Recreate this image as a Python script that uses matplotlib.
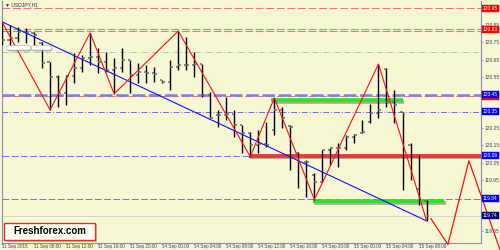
import matplotlib
matplotlib.use("Agg")
import matplotlib.pyplot as plt
import matplotlib.patheffects as pe
import matplotlib.transforms as mtransforms
from matplotlib.patches import FancyBboxPatch

# USDJPY H1 bars, 11 Sep 2015 04:00 .. 15 Sep 2015 09:00 (bar index)
opens = [120.822, 120.764, 120.776, 120.810, 120.805, 120.747, 120.636, 120.549, 120.456, 120.555,
         120.601, 120.659, 120.665, 120.636, 120.590, 120.601, 120.648, 120.560, 120.578, 120.572,
         120.531, 120.520, 120.607, 120.619, 120.619, 120.624, 120.444, 120.328, 120.328, 120.334,
         120.270, 120.223, 120.153, 120.159, 120.241, 120.357, 120.262, 120.107, 120.055, 119.979,
         119.938, 120.124, 120.136, 120.136, 120.200, 120.223, 120.287, 120.340, 120.595, 120.403,
         120.345, 120.153, 119.895, 119.828]
highs = [120.869, 120.851, 120.840, 120.834, 120.812, 120.752, 120.636, 120.560, 120.560, 120.688,
         120.677, 120.805, 120.717, 120.694, 120.659, 120.717, 120.648, 120.630, 120.619, 120.607,
         120.531, 120.648, 120.816, 120.781, 120.694, 120.624, 120.462, 120.357, 120.433, 120.357,
         120.270, 120.229, 120.241, 120.287, 120.427, 120.374, 120.270, 120.113, 120.066, 119.991,
         120.124, 120.136, 120.165, 120.212, 120.217, 120.299, 120.392, 120.624, 120.601, 120.473,
         120.345, 120.165, 120.095, 119.834]
lows = [120.735, 120.723, 120.752, 120.747, 120.717, 120.601, 120.357, 120.374, 120.386, 120.514,
        120.578, 120.619, 120.572, 120.578, 120.450, 120.578, 120.456, 120.514, 120.514, 120.520,
        120.514, 120.473, 120.590, 120.590, 120.549, 120.433, 120.310, 120.258, 120.299, 120.200,
        120.107, 120.084, 120.107, 120.142, 120.212, 120.252, 120.008, 119.903, 119.851, 119.834,
        119.938, 120.037, 120.026, 120.124, 120.165, 120.223, 120.281, 120.310, 120.374, 120.281,
        119.892, 119.950, 119.805, 119.712]
closes = [120.764, 120.776, 120.810, 120.805, 120.793, 120.630, 120.549, 120.456, 120.555, 120.601,
          120.659, 120.665, 120.636, 120.590, 120.601, 120.648, 120.560, 120.578, 120.572, 120.566,
          120.520, 120.607, 120.619, 120.619, 120.624, 120.444, 120.310, 120.328, 120.334, 120.270,
          120.223, 120.153, 120.159, 120.153, 120.357, 120.310, 120.258, 120.055, 120.055, 119.938,
          120.124, 120.136, 120.136, 120.200, 120.212, 120.229, 120.340, 120.357, 120.403, 120.386,
          120.334, 119.979, 119.845, 119.741]

time_ticks = list(range(0, 53, 4))
time_labels = ["11 Sep 2015", "11 Sep 08:00", "11 Sep 12:00", "11 Sep 16:00", "11 Sep 20:00",
               "14 Sep 00:00", "14 Sep 04:00", "14 Sep 08:00", "14 Sep 12:00", "14 Sep 16:00",
               "14 Sep 20:00", "15 Sep 00:00", "15 Sep 04:00", "15 Sep 08:00"]
price_ticks = [120.95, 120.85, 120.75, 120.65, 120.55, 120.45, 120.35, 120.25, 120.15,
               120.05, 119.95, 119.85, 119.75, 119.65]
# ticks whose labels sit under a price box
covered = [120.95, 120.45, 120.35, 119.85, 119.75]

# zigzag swings and projection
zz_x = [0, 6, 11, 14, 22, 31, 34, 39, 47, 53]
zz_y = [120.869, 120.357, 120.805, 120.450, 120.816, 120.084, 120.427, 119.834, 120.624, 119.712]
proj_x = [53.55, 55.67, 58.29, 62.16]
proj_y = [119.723, 119.572, 120.060, 119.543]
trend_x = [0, 53]
trend_y = [120.87, 119.71]

# levels
red_levels = [120.95, 120.829, 120.817, 120.435]
blue_thick = 120.444
blue_dashdot = 120.345
green_dashdot = 120.696
blue_dashed = [120.09, 119.84]
bid = 119.741
red_zone = (30.8, 120.09)
green_zones = [(33.6, 50.0, 120.415), (38.8, 55.2, 119.826)]

labels_right = [("120.95", 120.95, "#ff0000"), ("120.83", 120.823, "#ff0000"),
                ("120.44", 120.432, "#ff0000"), ("120.45", 120.446, "#0000ff"),
                ("120.35", 120.345, "#0000ff"), ("120.09", 120.09, "#0000ff"),
                ("119.84", 119.84, "#0000ff"), ("119.74", 119.741, "#000080")]

bg = "#f8f7d4"
axcol = "#8a8ab8"
txtcol = "#40406a"

fig = plt.figure(figsize=(5, 2.5), dpi=100, facecolor=bg)
ax = fig.add_axes([0.004, 0.03, 0.958, 0.966])
ax.set_facecolor(bg)
ax.set_xlim(0.06, 59.8)
ax.set_ylim(119.584, 120.991)

# horizontal lines
for lv in red_levels:
    ax.axhline(lv, color="#ff7070", lw=0.8, dashes=(7, 2.5), zorder=1)
ax.axhline(green_dashdot, color="#9ad89a", lw=0.7, dashes=(6, 2, 1, 2), zorder=1)
ax.axhline(blue_thick, color="#7c7cf4", lw=1.8, dashes=(5, 1.5), zorder=1)
ax.axhline(blue_dashdot, color="#6a6aff", lw=0.7, dashes=(6, 2, 1, 2), zorder=1)
for lv in blue_dashed:
    ax.axhline(lv, color="#7070ff", lw=0.7, dashes=(7, 2.5), zorder=1)
ax.axhline(bid, color="#d8d8c8", lw=0.7, zorder=1)

shadow = [pe.SimpleLineShadow(offset=(1, -1.2), shadow_color="#777777", alpha=0.6), pe.Normal()]
ax.plot([red_zone[0], 59.8], [red_zone[1], red_zone[1]], color="#e83a3a", lw=2.8,
        solid_capstyle="butt", path_effects=shadow, zorder=3)
for x0, x1, lv in green_zones:
    ax.plot([x0, x1], [lv, lv], color="#1fe81f", lw=2.6, solid_capstyle="butt",
            path_effects=shadow, zorder=3)

# bars
xs = range(len(opens))
ax.vlines(xs, lows, highs, color="black", lw=1.0, zorder=4)
ax.hlines(opens, [x - 0.32 for x in xs], list(xs), color="#6a6a6a", lw=1.1, zorder=4)
ax.hlines(closes, list(xs), [x + 0.32 for x in xs], color="#6a6a6a", lw=1.1, zorder=4)

ax.plot(trend_x, trend_y, color="#1010ff", lw=0.8, zorder=5)
ax.plot(zz_x, zz_y, color="#ff1010", lw=0.8, zorder=5)
ax.plot(proj_x, proj_y, color="#ff1010", lw=0.9, zorder=5, clip_on=False)

# axes styling
ax.spines["top"].set_visible(False)
for s in ["left", "right", "bottom"]:
    ax.spines[s].set_color(axcol)
    ax.spines[s].set_linewidth(0.8)
ax.yaxis.tick_right()
ax.set_yticks(price_ticks)
ax.set_yticklabels(["" if p in covered else f"{p:.2f}" for p in price_ticks])
ax.set_xticks(time_ticks)
ax.set_xticklabels(time_labels, ha="left")
ax.tick_params(axis="y", length=1.5, width=0.6, color=axcol, pad=0.8, labelsize=3.5,
               labelcolor=txtcol)
ax.tick_params(axis="x", length=1.2, width=0.6, color=axcol, pad=0.2, labelsize=3.3,
               labelcolor=txtcol)
for t in ax.get_xticklabels() + ax.get_yticklabels():
    t.set_family("Liberation Sans")

trans = mtransforms.blended_transform_factory(ax.transAxes, ax.transData)
for txt, lv, col in labels_right:
    ax.text(1.004, lv, txt, transform=trans, ha="left", va="center", fontsize=3.5,
            family="Liberation Sans", color="white", clip_on=False, zorder=10,
            bbox=dict(boxstyle="square,pad=0.2", fc=col, ec=col, lw=0.3))

# chart caption and object labels
ax.text(0.006, 0.985, "\u25bc USDJPY,H1", transform=ax.transAxes, ha="left", va="center",
        fontsize=3.6, color="#303040", family=["Liberation Sans", "DejaVu Sans"], zorder=10)
for x0, x1 in [(0.011, 0.058), (0.063, 0.101)]:
    ax.add_patch(FancyBboxPatch((x0 + 0.002, 0.793), x1 - x0, 0.014, transform=ax.transAxes,
                                boxstyle="round,pad=0.002,rounding_size=0.006",
                                fc="#9a9a9a", ec="none", alpha=0.7, zorder=6))
    ax.add_patch(FancyBboxPatch((x0, 0.799), x1 - x0, 0.014, transform=ax.transAxes,
                                boxstyle="round,pad=0.002,rounding_size=0.006",
                                fc="white", ec="#b0b0b0", lw=0.4, zorder=7))

ax.add_patch(FancyBboxPatch((0.008, 0.004), 0.19, 0.072, transform=ax.transAxes,
                            boxstyle="square,pad=0", fc="#a0a0a0", ec="none", alpha=0.6, zorder=8))
ax.add_patch(FancyBboxPatch((0.004, 0.010), 0.19, 0.072, transform=ax.transAxes,
                            boxstyle="square,pad=0", fc="#fffff0", ec="#e03030", lw=1.0, zorder=9))
ax.text(0.099, 0.046, "Freshforex.com", transform=ax.transAxes, ha="center", va="center",
        fontsize=7, fontweight="bold", family="Liberation Sans", color="black", zorder=10)

fig.savefig("out.png", dpi=100, facecolor=bg)
